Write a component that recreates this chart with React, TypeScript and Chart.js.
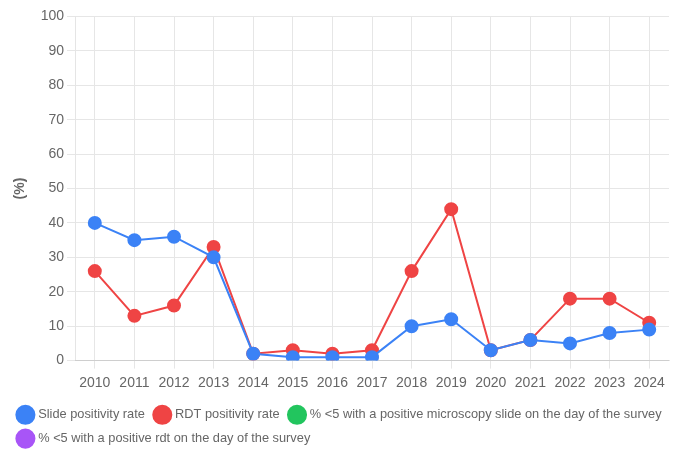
import React, { useEffect, useRef } from "react";
import { Chart, registerables } from "chart.js";

Chart.register(...registerables);

const years = ["2010","2011","2012","2013","2014","2015","2016","2017","2018","2019","2020","2021","2022","2023","2024"];
const slidePositivity = [40, 35, 36, 30, 2, 1, 1, 1, 10, 12, 3, 6, 5, 8, 9];
const rdtPositivity = [26, 13, 16, 33, 2, 3, 2, 3, 26, 44, 3, 6, 18, 18, 11];
const microscopyUnder5: (number | null)[] = years.map(() => null);
const rdtUnder5: (number | null)[] = years.map(() => null);

const FONT = "'Liberation Sans', Arial, Helvetica, sans-serif";
const TEXT = "#666";

export default function App() {
  const ref = useRef<HTMLCanvasElement | null>(null);
  useEffect(() => {
    if (!ref.current) return;
    const chart = new Chart(ref.current, {
      type: "line",
      data: {
        labels: years,
        datasets: [
          { label: "Slide positivity rate", data: slidePositivity, borderColor: "#3b82f6", backgroundColor: "#3b82f6", borderWidth: 2, pointRadius: 6, pointHoverRadius: 6, tension: 0 },
          { label: "RDT positivity rate", data: rdtPositivity, borderColor: "#ef4444", backgroundColor: "#ef4444", borderWidth: 2, pointRadius: 6, pointHoverRadius: 6, tension: 0 },
          { label: "% <5 with a positive microscopy slide on the day of the survey", data: microscopyUnder5, borderColor: "#22c55e", backgroundColor: "#22c55e", borderWidth: 2, pointRadius: 6 },
          { label: "% <5 with a positive rdt on the day of the survey", data: rdtUnder5, borderColor: "#a855f7", backgroundColor: "#a855f7", borderWidth: 2, pointRadius: 6 },
        ],
      },
      options: {
        animation: false,
        responsive: true,
        maintainAspectRatio: false,
        layout: { padding: 0 },
        plugins: {
          legend: {
            position: "bottom",
            align: "start",
            labels: { usePointStyle: true, pointStyle: "circle", color: TEXT, font: { family: FONT, size: 12.8 }, padding: 11 },
          },
          tooltip: { enabled: false },
        },
        scales: {
          x: {
            offset: true,
            grid: { color: "#e6e6e6" },
            ticks: { color: TEXT, padding: 6, font: { family: FONT, size: 14 } },
          },
          y: {
            min: 0,
            max: 100,
            afterFit: (s: any) => { s.width = 67; },
            ticks: { stepSize: 10, color: TEXT, font: { family: FONT, size: 14 } },
            grid: { color: "#e6e6e6" },
            title: { display: true, text: "(%)", color: TEXT, font: { family: FONT, size: 14, weight: "bold" } },
          },
          yPad: {
            type: "linear",
            position: "right",
            display: true,
            grid: { display: false, drawTicks: false },
            border: { display: false },
            ticks: { display: false },
            afterFit: (s: any) => { s.width = 9; },
          },
        },
      },
    } as any);
    return () => chart.destroy();
  }, []);
  return (
    <div style={{ width: 670, height: 444, marginTop: -3, overflow: "hidden" }}>
      <div style={{ width: 670, height: 450, position: "relative" }}>
        <canvas ref={ref} />
      </div>
    </div>
  );
}
